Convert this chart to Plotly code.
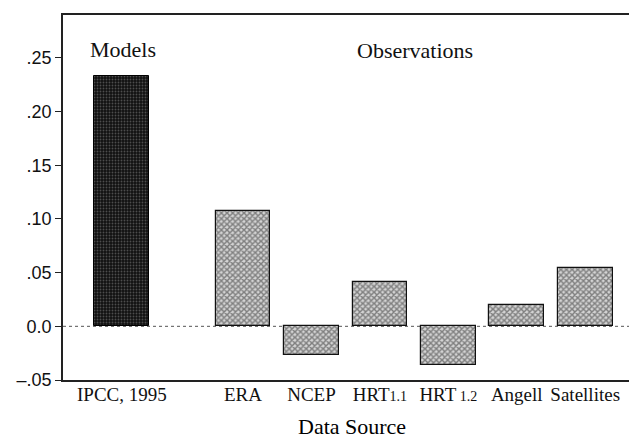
import plotly.graph_objects as go

# values
models = ["IPCC, 1995"]
model_values = [0.233]
obs = ["ERA", "NCEP", "HRT1.1", "HRT 1.2", "Angell", "Satellites"]
obs_values = [0.107, -0.027, 0.041, -0.036, 0.020, 0.054]
ytick_vals = [-0.05, 0.0, 0.05, 0.10, 0.15, 0.20, 0.25]
ytick_text = ["\u2013.05", "0.0", ".05", ".10", ".15", ".20", ".25"]

# the observations group sits a little apart from the model bar
gap = 1.77
model_x = [0]
obs_x = [gap + i for i in range(len(obs))]

serif = "Liberation Serif"
sans = "Liberation Sans"


def small_digits(label):
    # the HRT version numbers are printed smaller in the original
    if label.startswith("HRT"):
        head, num = label[:3], label[3:]
        return f"{head}<span style='font-size:14px'>{num}</span>"
    return label


fig = go.Figure()
fig.add_trace(go.Bar(
    x=model_x, y=model_values, width=0.8, showlegend=False,
    marker=dict(color="#1a1a1a", line=dict(color="#000", width=1),
                pattern=dict(shape=".", fgcolor="#8a8a8a", bgcolor="#111111",
                             size=3, solidity=0.3)),
))
fig.add_trace(go.Bar(
    x=obs_x, y=obs_values, width=0.8, showlegend=False,
    marker=dict(color="#c8c8c8", line=dict(color="#111", width=1.2),
                pattern=dict(shape="x", fgcolor="#2a2a2a", bgcolor="#d4d4d4",
                             size=4, solidity=0.6)),
))

# dotted zero line across the plot
fig.add_shape(type="line", xref="paper", x0=0, x1=1, y0=0, y1=0,
              line=dict(color="#555", width=1, dash="dot"), layer="below")

fig.add_annotation(x=-0.5, y=0.258, text="Models", showarrow=False,
                   xanchor="left", yanchor="middle",
                   font=dict(family=serif, size=22, color="#111"))
fig.add_annotation(x=gap + 2.51, y=0.257, text="Observations", showarrow=False,
                   xanchor="center", yanchor="middle",
                   font=dict(family=serif, size=22, color="#111"))
# x axis title
fig.add_annotation(x=0.51, xref="paper", y=-0.128, yref="paper",
                   text="Data Source", showarrow=False,
                   xanchor="center", yanchor="middle",
                   font=dict(family=serif, size=22, color="#000"))

fig.update_layout(
    width=629, height=439,
    margin=dict(l=63, r=0, t=15, b=59),
    paper_bgcolor="white", plot_bgcolor="white",
    bargap=0,
    xaxis=dict(
        range=[-0.86, gap + 5 + 0.64], automargin=False,
        tickvals=model_x + obs_x,
        ticktext=[small_digits(t) for t in models + obs],
        tickfont=dict(family=serif, size=19, color="#111"),
        ticklabelstandoff=-4,
        showline=True, linecolor="#222", linewidth=1.5, mirror=True,
        showgrid=False, ticks="", zeroline=False,
    ),
    yaxis=dict(
        range=[-0.05, 0.29], automargin=False,
        tickvals=ytick_vals, ticktext=ytick_text,
        tickfont=dict(family=sans, size=18, color="#111"),
        showline=True, linecolor="#222", linewidth=1.5,
        ticks="outside", ticklen=6, tickcolor="#222",
        showgrid=False, zeroline=False,
    ),
)

# drop the page's default body margin so the figure sits at the window corner
fig.write_html("out.html", config={"displayModeBar": False},
               post_script="document.body.style.margin='0';")
